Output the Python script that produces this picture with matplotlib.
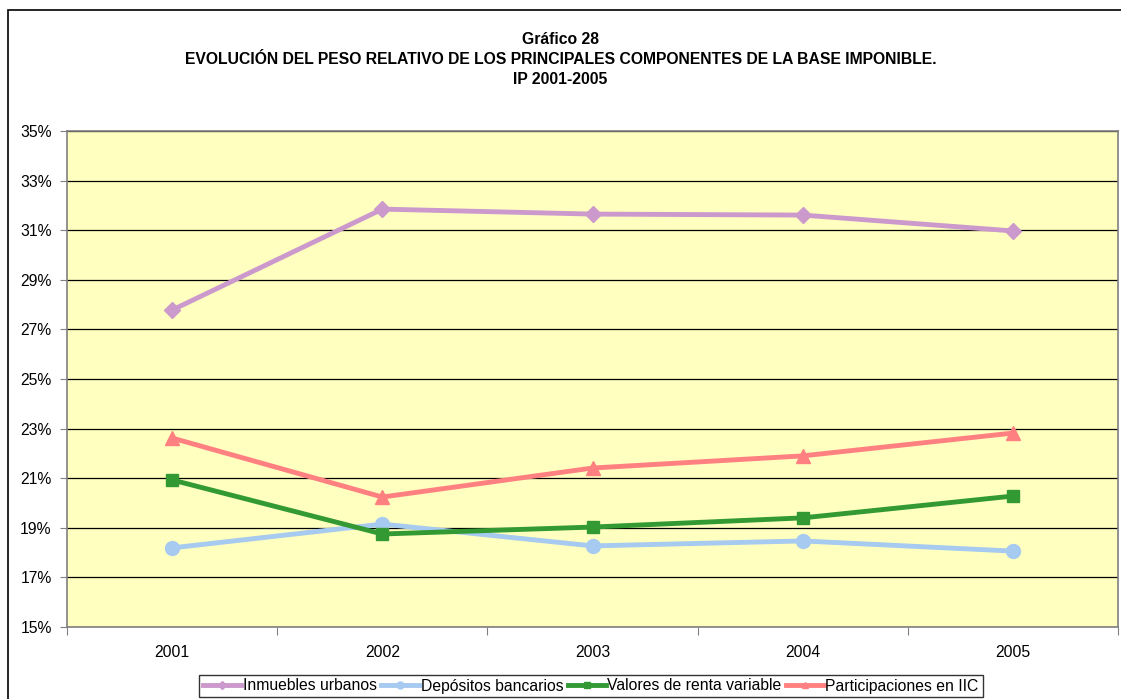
import matplotlib.pyplot as plt
from matplotlib.patches import Rectangle
from matplotlib.ticker import FuncFormatter, FixedLocator

plt.rcParams['font.family'] = ['Liberation Sans', 'DejaVu Sans']

# datos (porcentaje de la base imponible)
years = ['2001', '2002', '2003', '2004', '2005']
inmuebles = [27.78, 31.85, 31.65, 31.61, 30.97]
depositos = [18.19, 19.15, 18.27, 18.47, 18.06]
renta_variable = [20.93, 18.75, 19.03, 19.40, 20.28]
participaciones = [22.62, 20.24, 21.41, 21.90, 22.82]

series = [
    ('Inmuebles urbanos', inmuebles, '#CC99CC', 'D', 8),
    ('Depósitos bancarios', depositos, '#A6CAF0', 'o', 10),
    ('Valores de renta variable', renta_variable, '#339933', 's', 9),
    ('Participaciones en IIC', participaciones, '#FF8080', '^', 10),
]

fig = plt.figure(figsize=(11.21, 6.99), dpi=100)
W, H = 1121, 699

# marco del area del grafico
fig.patches.append(Rectangle((8 / W, -0.1), 1.2, (699 - 10) / H + 0.1,
                             transform=fig.transFigure, fill=False,
                             edgecolor='black', linewidth=1.2))

ax = fig.add_axes([67 / W, (H - 627) / H, (1118 - 67) / W, (627 - 131) / H])
ax.set_facecolor('#FFFFC0')

x = list(range(len(years)))
for label, vals, color, marker, ms in series:
    ax.plot(x, vals, color=color, linewidth=3.5, marker=marker, markersize=ms,
            markeredgecolor=color, label=label, zorder=3)

ax.set_xlim(-0.5, len(years) - 0.5)
ax.set_ylim(15, 35)
ax.set_yticks(range(15, 36, 2))
ax.yaxis.set_major_formatter(FuncFormatter(lambda v, p: f'{v:.0f}%'))
ax.grid(axis='y', color='black', linewidth=0.9)
ax.set_axisbelow(True)

ax.xaxis.set_major_locator(FixedLocator([i - 0.5 for i in range(len(years) + 1)]))
ax.xaxis.set_minor_locator(FixedLocator(x))
ax.xaxis.set_major_formatter(FuncFormatter(lambda v, p: ''))
ax.set_xticks(x, years, minor=True)
ax.tick_params(axis='x', which='minor', length=0, pad=13, labelsize=11.3)
ax.tick_params(axis='x', which='major', length=6, color='gray')
ax.tick_params(axis='y', length=5, color='gray', labelsize=11.3, pad=6)

for side in ['top', 'right', 'left', 'bottom']:
    ax.spines[side].set_color('gray')
    ax.spines[side].set_linewidth(1.2)

fig.text(0.5, (H - 39) / H, 'Gráfico 28', ha='center', va='center',
         fontsize=11.3, fontweight='bold')
fig.text(0.5, (H - 59) / H,
         'EVOLUCIÓN DEL PESO RELATIVO DE LOS PRINCIPALES COMPONENTES DE LA BASE IMPONIBLE.',
         ha='center', va='center', fontsize=11.3, fontweight='bold')
fig.text(0.5, (H - 79) / H, 'IP 2001-2005', ha='center', va='center',
         fontsize=11.3, fontweight='bold')

leg = fig.legend(loc='center', bbox_to_anchor=(591 / W, (H - 686) / H), ncol=4,
                 frameon=True, fancybox=False, edgecolor='black', fontsize=11.3,
                 handlelength=2.4, handletextpad=0.1, columnspacing=0.3,
                 borderpad=0.25, borderaxespad=0, markerscale=0.5)
leg.get_frame().set_linewidth(1.0)

fig.savefig('out.png', dpi=100)
